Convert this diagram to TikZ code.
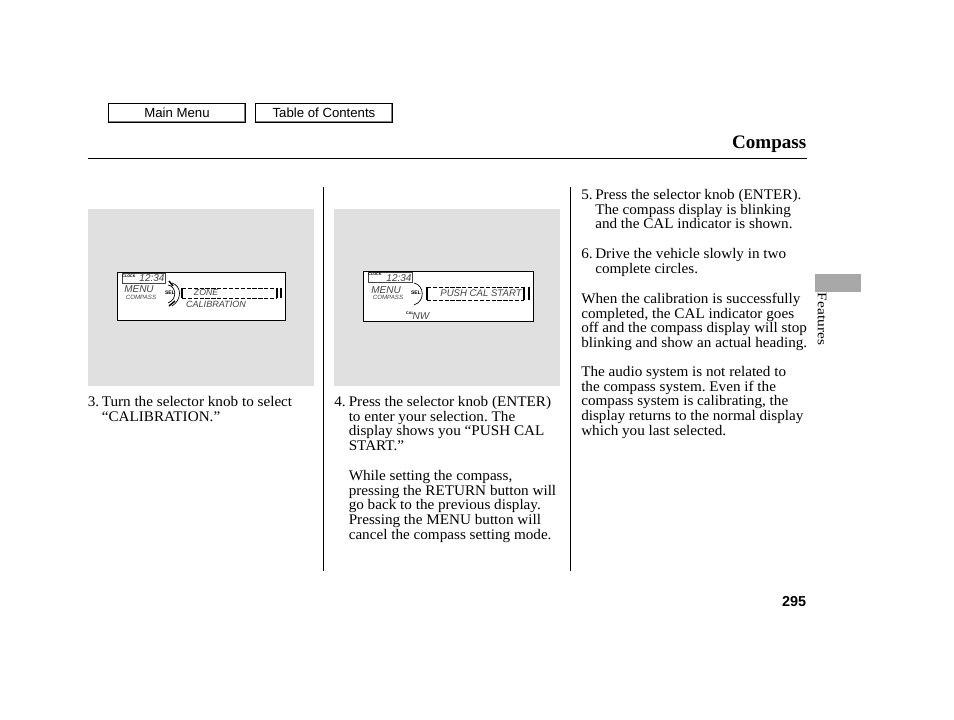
\documentclass[tikz,border=0pt]{standalone}
\usepackage{fontspec}
\setmainfont{Liberation Serif}
\setsansfont{Liberation Sans}
\newfontfamily\bodyfont[FakeStretch=1.035,Ligatures=TeX]{Liberation Serif}
\newfontfamily\tabfont[FakeStretch=1.18]{Liberation Serif}
\usetikzlibrary{positioning}
\definecolor{panelgray}{HTML}{E0E0E0}
\definecolor{tabgray}{HTML}{A8A8A8}
\definecolor{lcdgray}{HTML}{444444}

\begin{document}
\begin{tikzpicture}[x=0.75pt,y=-0.75pt,
    body text/.style={anchor=north west,inner sep=0pt,align=left,font=\bodyfont\fontsize{11}{11}\selectfont\frenchspacing},
    step number/.style={body text,yshift=-0.3pt},
    menu button/.style={draw,line width=1pt,fill=white,minimum width=102.5pt,minimum height=14pt,inner sep=0pt,font=\sffamily\fontsize{9.9}{11}\selectfont},
    lcd box/.style={draw,line width=0.7pt,fill=white,inner sep=0pt},
    clock box/.style={draw=lcdgray,line width=0.4pt,inner sep=0pt},
    lcd big/.style={inner sep=0pt,text=lcdgray,font=\sffamily\itshape\fontsize{7.5}{8}\selectfont},
    lcd small/.style={inner sep=0pt,text=lcdgray,font=\sffamily\itshape\fontsize{4.6}{5}\selectfont},
    lcd tiny/.style={inner sep=0pt,font=\sffamily\bfseries\fontsize{2.8}{3}\selectfont},
    sel label/.style={inner sep=0pt,font=\sffamily\bfseries\fontsize{3.8}{4}\selectfont},
    lcd dash/.style={line width=0.7pt,dash pattern=on 3.2pt off 1.2pt},
    lcd bar/.style={line width=1.1pt}]
    \useasboundingbox (0,0) rectangle (954,720);

    % buttons
    \node[menu button] (mainmenu) at (177,113) {Main Menu};
    \node[menu button] (contents) at (324,113) {Table of Contents};
    \draw[gray,line width=1pt] ([xshift=1pt,yshift=1.1pt]mainmenu.south west) -| ([xshift=-1.1pt,yshift=-1pt]mainmenu.north east);
    \draw[gray,line width=1pt] ([xshift=1pt,yshift=1.1pt]contents.south west) -| ([xshift=-1.1pt,yshift=-1pt]contents.north east);

    % header
    \node[anchor=base east,inner sep=0pt,font=\bfseries\fontsize{14.3}{16}\selectfont] (title) at (806.5,148.5) {Compass};
    \coordinate (ruleleft) at (87.5,158.5);
    \coordinate (ruleright) at (806.5,158.5);
    \draw[line width=0.7pt] (ruleleft) -- (ruleright);

    % column rules
    \coordinate (rule1top) at (323.5,187);
    \coordinate (rule1bot) at (323.5,571);
    \coordinate (rule2top) at (570.5,187);
    \coordinate (rule2bot) at (570.5,571);
    \draw[line width=0.7pt] (rule1top) -- (rule1bot);
    \draw[line width=0.7pt] (rule2top) -- (rule2bot);

    % picture panels
    \fill[panelgray] (87.5,209) rectangle (314,386);
    \fill[panelgray] (334,209) rectangle (560,386);

    % first display
    \node[lcd box,minimum width=126pt,minimum height=36pt] (lcd1) at (201,296) {};
    \node[clock box,minimum width=32pt,minimum height=7.5pt] (clock1) at (143.5,278) {};
    \node[lcd tiny] (clocktext1) at (129,276) {CLOCK};
    \node[lcd big] (time1) at (152,278) {12:34};
    \node[lcd big] (menu1) at (139,289) {MENU};
    \node[lcd small] (compass1) at (141,297) {COMPASS};
    \node[sel label] (sel1) at (170,293) {SEL};
    \draw[line width=0.5pt] (168,285) .. controls (176,286) and (178,299) .. (168,303);
    \draw[line width=0.5pt] (172,283) .. controls (182,286) and (182,300) .. (172,306);
    \draw[line width=1.1pt] (169,281) -- (173,286);
    \draw[line width=1.1pt] (169,306) -- (175,301);
    \draw[lcd bar] (182,288) -- (182,298);
    \draw[lcd dash] (182,288) -- (276,288);
    \draw[lcd dash] (182,298) -- (276,298);
    \draw[lcd bar] (277,288) -- (277,298);
    \draw[lcd bar] (281,288) -- (281,298);
    \node[lcd big,font=\sffamily\itshape\fontsize{6.5}{7}\selectfont] (zone1) at (206,293) {ZONE};
    \node[lcd small,font=\sffamily\itshape\fontsize{6.8}{7}\selectfont] (cal1) at (216,304) {CALIBRATION};

    % second display
    \node[lcd box,minimum width=127.5pt,minimum height=37.5pt] (lcd2) at (448,296) {};
    \node[clock box,minimum width=33pt,minimum height=7.5pt] (clock2) at (390,277.5) {};
    \node[lcd tiny] (clocktext2) at (375,274.5) {CLOCK};
    \node[lcd big] (time2) at (399,278) {12:34};
    \node[lcd big] (menu2) at (386,290) {MENU};
    \node[lcd small] (compass2) at (388,297) {COMPASS};
    \node[sel label] (sel2) at (416,293) {SEL};
    \draw[line width=0.5pt] (414,283) .. controls (424,285) and (426,301) .. (414,305);
    \draw[lcd bar] (427,287) -- (427,300);
    \draw[lcd dash] (427,287) -- (524,287);
    \draw[lcd dash] (427,300) -- (524,300);
    \draw[lcd bar] (524,287) -- (524,300);
    \draw[lcd bar] (529,287) -- (529,300);
    \node[lcd big,font=\sffamily\itshape\fontsize{7.2}{8}\selectfont] (push2) at (481,293) {PUSH CAL START};
    \node[lcd tiny] (caltext2) at (410,313) {CAL};
    \node[lcd big] (nw2) at (421,316) {NW};

    % step texts
    \node[step number] (num3) at (87.5,396) {3.};
    \node[body text] (text3) at (101.5,396) {Turn the selector knob to select\\``CALIBRATION.''};
    \node[step number] (num4) at (334,396) {4.};
    \node[body text] (text4) at (348.5,396) {Press the selector knob (ENTER)\\to enter your selection. The\\display shows you ``PUSH CAL\\START.''};
    \node[body text] (note4) at (348.5,470) {While setting the compass,\\pressing the RETURN button will\\go back to the previous display.\\Pressing the MENU button will\\cancel the compass setting mode.};
    \node[step number] (num5) at (581,189) {5.};
    \node[body text] (text5) at (595,189) {Press the selector knob (ENTER).\\The compass display is blinking\\and the CAL indicator is shown.};
    \node[step number] (num6) at (581,248) {6.};
    \node[body text] (text6) at (595,248) {Drive the vehicle slowly in two\\complete circles.};
    \node[body text] (note5) at (581,293) {When the calibration is successfully\\completed, the CAL indicator goes\\off and the compass display will stop\\blinking and show an actual heading.};
    \node[body text] (note6) at (581,366) {The audio system is not related to\\the compass system. Even if the\\compass system is calibrating, the\\display returns to the normal display\\which you last selected.};

    % side tab and page number
    \fill[tabgray] (815,274) rectangle (861,292);
    \node[rotate=-90,inner sep=0pt,font=\tabfont\fontsize{9.8}{10}\selectfont] (features) at (822,319) {Features};
    \node[anchor=base east,inner sep=0pt,font=\sffamily\bfseries\fontsize{10.8}{12}\selectfont] (page) at (806.5,606) {295};
\end{tikzpicture}
\end{document}
